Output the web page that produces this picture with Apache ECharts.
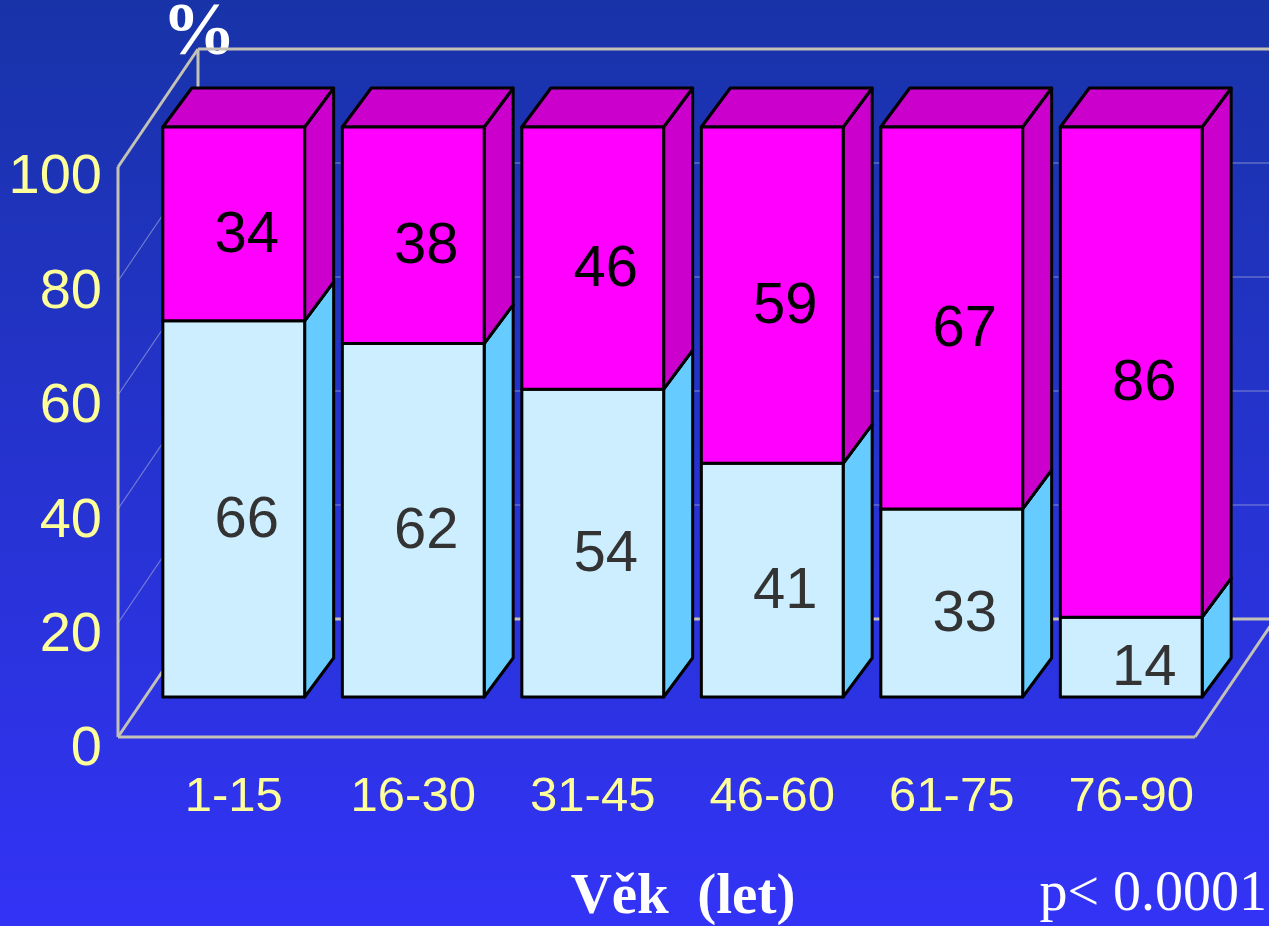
<!DOCTYPE html>
<html>
<head>
<meta charset="utf-8">
<script src="https://cdn.jsdelivr.net/npm/echarts@6/dist/echarts.min.js"></script>
<style>
  html, body { margin: 0; padding: 0; }
  #main { width: 1269px; height: 926px; }
</style>
</head>
<body>
<div id="main"></div>
<script>
// data
var ageGroups = ['1-15', '16-30', '31-45', '46-60', '61-75', '76-90'];
var lowerPart = [66, 62, 54, 41, 33, 14];   // light blue
var upperPart = [34, 38, 46, 59, 67, 86];   // magenta
var yTicks = [0, 20, 40, 60, 80, 100];

// 3d offsets in px (front of frame, back of frame, bar depth)
var FRONT = [-26, 40], BACK = [54, -78], DEPTH = [29, -39];
var LINE = '#c4c2b4';

var chart = echarts.init(document.getElementById('main'));

function frameItem(params, api) {
  var p0 = api.coord([0, 0]), p100 = api.coord([0, 100]);
  var band = api.size([1, 0])[0];
  var xl = p0[0] - band / 2, xr = xl + band * ageGroups.length;
  var y0 = p0[1];
  var kids = [];
  function ln(x1, y1, x2, y2, w, c) {
    kids.push({ type: 'line', shape: { x1: x1, y1: y1, x2: x2, y2: y2 },
      style: { stroke: c || LINE, lineWidth: w || 3 } });
  }
  // thin gridlines on back wall and left wall
  for (var i = 1; i < yTicks.length - 1; i++) {
    var y = api.coord([0, yTicks[i]])[1];
    ln(xl + BACK[0], y + BACK[1], 1300, y + BACK[1], 1.2, 'rgba(170,175,215,0.7)');
    ln(xl + FRONT[0], y + FRONT[1], xl + BACK[0], y + BACK[1], 1.2, 'rgba(170,175,215,0.6)');
  }
  var yt = p100[1];
  // back wall
  ln(xl + BACK[0], yt + BACK[1], xl + BACK[0], y0 + BACK[1]);
  ln(xl + BACK[0], yt + BACK[1], 1300, yt + BACK[1]);
  ln(xl + BACK[0], y0 + BACK[1], 1300, y0 + BACK[1]);
  // left wall
  ln(xl + FRONT[0], y0 + FRONT[1], xl + FRONT[0], yt + FRONT[1]);
  ln(xl + FRONT[0], yt + FRONT[1], xl + BACK[0], yt + BACK[1]);
  ln(xl + FRONT[0], y0 + FRONT[1], xl + BACK[0], y0 + BACK[1]);
  // floor
  ln(xl + FRONT[0], y0 + FRONT[1], xr + FRONT[0], y0 + FRONT[1]);
  ln(xr + FRONT[0], y0 + FRONT[1], xr + BACK[0], y0 + BACK[1]);
  return { type: 'group', children: kids };
}

function boxItem(front, side, textColor) {
  return function (params, api) {
    var idx = api.value(0), from = api.value(1), to = api.value(2), val = api.value(3);
    var b = api.coord([idx, from]), t = api.coord([idx, to]);
    var w = api.size([1, 0])[0] * 0.79;
    var x0 = b[0] - w / 2, x1 = b[0] + w / 2, yb = b[1], yt = t[1];
    var dx = DEPTH[0], dy = DEPTH[1];
    var stroke = { stroke: '#000', lineWidth: 3, lineJoin: 'round' };
    var kids = [
      { type: 'polygon', shape: { points: [[x1, yb], [x1 + dx, yb + dy], [x1 + dx, yt + dy], [x1, yt]] },
        style: Object.assign({ fill: side }, stroke) },
      { type: 'polygon', shape: { points: [[x0, yt], [x0 + dx, yt + dy], [x1 + dx, yt + dy], [x1, yt]] },
        style: Object.assign({ fill: side }, stroke) },
      { type: 'rect', shape: { x: x0, y: yt, width: w, height: yb - yt },
        style: Object.assign({ fill: front }, stroke) },
      { type: 'text', x: b[0] + 13, y: (yb + yt) / 2 + 12,
        style: { text: String(val), fill: textColor, font: '58px "Liberation Sans", Arial, sans-serif',
          align: 'center', verticalAlign: 'middle' } }
    ];
    return { type: 'group', children: kids };
  };
}

var lowerData = lowerPart.map(function (v, i) { return [i, 0, v, v]; });
var upperData = upperPart.map(function (v, i) { return [i, lowerPart[i], lowerPart[i] + v, v]; });

chart.setOption({
  backgroundColor: {
    type: 'linear', x: 0, y: 0, x2: 0, y2: 1,
    colorStops: [{ offset: 0, color: '#1833a8' }, { offset: 1, color: '#3333f6' }]
  },
  animation: false,
  grid: [
    { left: 144, right: 48, top: 127, bottom: 229 },
    { left: 118, width: 10, top: 178, bottom: 176 }
  ],
  xAxis: [
    { type: 'category', data: ageGroups, gridIndex: 0,
      axisLine: { show: false }, axisTick: { show: false },
      axisLabel: { color: '#ffff99', fontSize: 49, fontFamily: 'Liberation Sans', margin: 76 } },
    { type: 'value', gridIndex: 1, show: false }
  ],
  yAxis: [
    { type: 'value', gridIndex: 0, min: 0, max: 100, interval: 20, show: false },
    { type: 'value', gridIndex: 1, min: 0, max: 100, interval: 20,
      axisLine: { show: false }, axisTick: { show: false }, splitLine: { show: false },
      axisLabel: { color: '#ffff99', fontSize: 56, fontFamily: 'Liberation Sans', margin: 16 } }
  ],
  graphic: [
    { type: 'text', left: 162, top: -2,
      style: { text: '%', fill: '#fff', font: 'bold 74px "Liberation Serif", serif' } },
    { type: 'text', x: 683, y: 898,
      style: { text: 'Věk  (let)', fill: '#fff', font: 'bold 57px "Liberation Serif", serif',
        align: 'center', verticalAlign: 'middle' } },
    { type: 'text', x: 1267, y: 895,
      style: { text: 'p< 0.0001', fill: '#fff', font: '56px "Liberation Serif", serif',
        align: 'right', verticalAlign: 'middle' } }
  ],
  series: [
    { type: 'custom', name: 'frame', xAxisIndex: 0, yAxisIndex: 0, z: 1,
      data: [[0, 0]], renderItem: frameItem, silent: true },
    { type: 'custom', name: 'lower', xAxisIndex: 0, yAxisIndex: 0, z: 2,
      data: lowerData, renderItem: boxItem('#cceeff', '#66ccff', '#333333'),
      encode: { x: 0, y: [1, 2] } },
    { type: 'custom', name: 'upper', xAxisIndex: 0, yAxisIndex: 0, z: 3,
      data: upperData, renderItem: boxItem('#ff00ff', '#cc00cc', '#000000'),
      encode: { x: 0, y: [1, 2] } }
  ]
});
</script>
</body>
</html>
